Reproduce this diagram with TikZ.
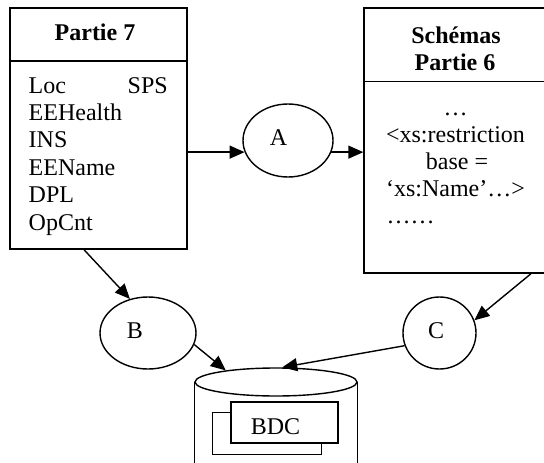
\documentclass[tikz,border=0pt]{standalone}
\usepackage{fontspec}
\setmainfont{Liberation Serif}
\usetikzlibrary{arrows.meta,shapes.geometric}
\begin{document}
\begin{tikzpicture}[x=1pt,y=-1pt,line width=1.4pt,
  frame/.style={draw,rectangle,inner sep=0pt},
  oval/.style={draw,ellipse,inner sep=0pt},
  txt/.style={inner sep=0pt,font=\fontsize{24}{28}\selectfont},
  ttl/.style={inner sep=0pt,font=\fontsize{24}{28}\selectfont\bfseries},
  arr/.style={-{Triangle[length=15pt,width=13pt]}}]
\useasboundingbox (0,0) rectangle (544,463);
\clip (0,0) rectangle (544,463);
% Partie 7 box
\node[frame,minimum width=177pt,minimum height=241pt] (p7) at (98.5,128.5) {};
\node[frame,minimum width=177pt,minimum height=53pt,anchor=north] (p7h) at (p7.north) {};
\node[ttl,anchor=base] (p7t) at (95,40) {Partie 7};
\node[txt,anchor=base west] (loc) at (28,93) {Loc};
\node[txt,anchor=base west] (sps) at (127,93) {SPS};
\foreach \t [count=\i from 0] in {EEHealth,INS,EEName,DPL,OpCnt}
  \node[txt,anchor=base west] (p7l\i) at (28,{120.4+27.4*\i}) {\t};
% Schemas box
\node[frame,minimum width=182pt,minimum height=265pt] (s6) at (455,140.5) {};
\node[frame,minimum width=182pt,minimum height=73.5pt,anchor=north] (s6h) at (s6.north) {};
\node[ttl,anchor=base] (s6t1) at (456,43) {Schémas};
\node[ttl,anchor=base] (s6t2) at (455,70) {Partie 6};
\node[txt,anchor=base] (s6l0) at (455.5,115) {…};
\node[txt,anchor=base] (s6l1) at (455.5,142) {<xs:restriction};
\node[txt,anchor=base] (s6l2) at (457,169) {base =};
\node[txt,anchor=base] (s6l3) at (455.5,196) {‘xs:Name’…>};
\node[txt,anchor=base west] (s6l4) at (386,223) {……};
% ellipses
\node[oval,minimum width=90pt,minimum height=73pt] (A) at (288,140.5) {};
\node[txt,anchor=base] (Al) at (278.5,145) {A};
\node[oval,minimum width=96pt,minimum height=72pt] (B) at (148,333) {};
\node[txt,anchor=base] (Bl) at (135,338) {B};
\node[oval,minimum width=73pt,minimum height=72pt] (C) at (439.5,333) {};
\node[txt,anchor=base] (Cl) at (436,338) {C};
% database
\node[oval,minimum width=162pt,minimum height=28pt] (db) at (276,382) {};
\draw (db.west) -- ++(0,90);
\draw (db.east) -- ++(0,90);
\node[frame,minimum width=109pt,minimum height=42pt] (dbb) at (267,433.5) {};
\node[frame,fill=white,minimum width=107pt,minimum height=41pt] (dbf) at (284.5,422.5) {};
\node[txt,anchor=base] (bdc) at (275.5,434) {BDC};
% connectors
\draw[arr] (p7.east |- A.195) -- (A.195);
\draw[arr] (A.345) -- (A.345 -| s6.west);
\draw[arr] (p7.south) ++(-14.5,0) -- (B.118);
\draw[arr] (s6.south) ++(76,0) -- (C.20);
\draw[arr] (B.346) -- (db.167);
\draw[arr] (C.200) -- (db.67);
\end{tikzpicture}
\end{document}
